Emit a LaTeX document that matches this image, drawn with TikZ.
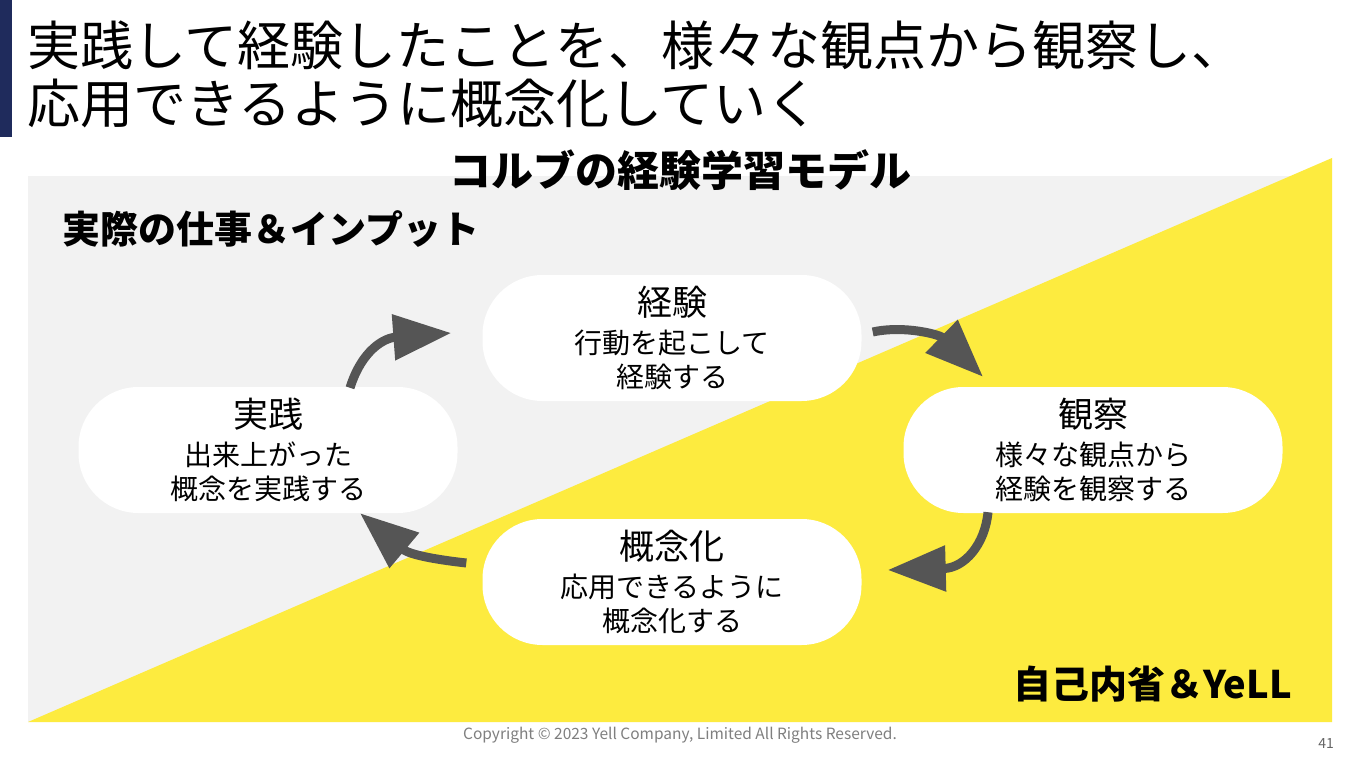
\documentclass[tikz,border=0pt]{standalone}
\usepackage{fontspec}
\setmainfont{Noto Sans CJK JP}
\usetikzlibrary{arrows.meta}
\definecolor{navy}{HTML}{1F2B5C}
\definecolor{panelgray}{HTML}{F2F2F2}
\definecolor{yell}{HTML}{FDEB3F}
\definecolor{arrowgray}{HTML}{555555}
\definecolor{footgray}{HTML}{7F7F7F}
\newcommand{\bigsz}{\fontsize{35}{34}\selectfont}
\newcommand{\smsz}{\fontsize{28}{34}\selectfont}
\tikzset{
  stage/.style={fill=white, rounded corners=60pt, minimum width=379pt, minimum height=126pt,
    align=center, inner sep=0pt, text=black, font=\smsz},
  cyc/.style={draw=arrowgray, line width=9pt, -{Triangle[length=58pt,width=44pt]}},
}
\begin{document}
\begin{tikzpicture}[x=1pt,y=-1pt]
\useasboundingbox (0,0) rectangle (1360,765);
\fill[white] (0,0) rectangle (1360,765);
\fill[navy] (0,0) rectangle (12,137);
\fill[panelgray] (28,176) rectangle (1332,722);
\fill[yell] (28,722) -- (1332,158) -- (1332,722) -- cycle;

\node[anchor=west, inner sep=0pt, font=\fontsize{53}{58}\selectfont] (t1) at (27,45) {実践して経験したことを、様々な観点から観察し、};
\node[anchor=west, inner sep=0pt, font=\fontsize{53}{58}\selectfont] (t2) at (27,103) {応用できるように概念化していく};

\node[inner sep=0pt, font=\bfseries\fontsize{42}{42}\selectfont] (kolb) at (680,170) {コルブの経験学習モデル};
\node[anchor=west, inner sep=0pt, font=\bfseries\fontsize{38}{38}\selectfont] (work) at (62,229) {実際の仕事＆インプット};
\node[anchor=east, inner sep=0pt, font=\bfseries\fontsize{38}{38}\selectfont] (self) at (1292,684) {自己内省＆YeLL};

\node[stage] (keiken) at (672,338) {\bigsz 経験\\[4pt]行動を起こして\\経験する};
\node[stage] (jissen) at (268,450) {\bigsz 実践\\[4pt]出来上がった\\概念を実践する};
\node[stage] (kansatsu) at (1093,450) {\bigsz 観察\\[4pt]様々な観点から\\経験を観察する};
\node[stage] (gainen) at (672,582) {\bigsz 概念化\\[4pt]応用できるように\\概念化する};

\draw[cyc] ([xshift=82pt,yshift=-1pt]jissen.north) .. controls +(12,-38) and +(-67,5) .. ([xshift=-31pt,yshift=5pt]keiken.west);
\draw[cyc] ([xshift=11pt,yshift=6pt]keiken.east) .. controls +(32,-7) and +(-43,-42) .. ([xshift=-110pt,yshift=10pt]kansatsu.north);
\draw[cyc] ([xshift=-105pt,yshift=1pt]kansatsu.south) .. controls +(-3,32) and +(77,-2) .. ([xshift=26pt,yshift=12pt]gainen.east);
\draw[cyc] ([xshift=-16pt,yshift=19pt]gainen.west) .. controls +(-27,-3) and +(50,42) .. ([xshift=92pt]jissen.south);

\node[inner sep=0pt, text=footgray, font=\fontsize{15.5}{17}\selectfont] (copy) at (680,735) {Copyright © 2023 Yell Company, Limited All Rights Reserved.};
\node[anchor=east, inner sep=0pt, text=footgray!80!black, font=\fontsize{14}{16}\selectfont] (page) at (1334,744) {41};
\end{tikzpicture}
\end{document}
